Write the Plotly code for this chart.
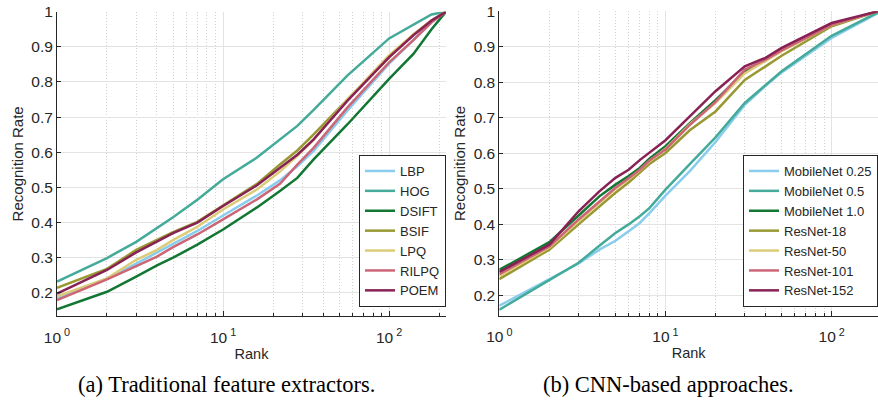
import math
import plotly.graph_objects as go

# ---------------- data: (a) traditional feature extractors ----------------
ranks_a = [1, 2, 3, 4, 5, 7, 10, 16, 22, 28, 35, 56, 100, 140, 180, 220]
lbp   = [0.185, 0.240, 0.283, 0.315, 0.340, 0.376, 0.420, 0.477, 0.520, 0.560, 0.603, 0.718, 0.852, 0.919, 0.970, 1.0]
hog   = [0.232, 0.299, 0.345, 0.385, 0.415, 0.465, 0.523, 0.585, 0.635, 0.675, 0.720, 0.818, 0.924, 0.962, 0.992, 1.0]
dsift = [0.153, 0.203, 0.246, 0.278, 0.300, 0.337, 0.380, 0.443, 0.490, 0.527, 0.579, 0.679, 0.809, 0.880, 0.950, 1.0]
bsif  = [0.214, 0.268, 0.322, 0.350, 0.373, 0.402, 0.449, 0.510, 0.565, 0.605, 0.650, 0.750, 0.870, 0.935, 0.975, 1.0]
lpq   = [0.190, 0.241, 0.294, 0.322, 0.350, 0.388, 0.437, 0.494, 0.545, 0.590, 0.635, 0.750, 0.876, 0.935, 0.975, 1.0]
rilpq = [0.179, 0.238, 0.276, 0.303, 0.330, 0.366, 0.409, 0.466, 0.510, 0.565, 0.612, 0.727, 0.856, 0.919, 0.970, 1.0]
poem  = [0.198, 0.265, 0.315, 0.347, 0.370, 0.400, 0.447, 0.506, 0.555, 0.593, 0.636, 0.746, 0.871, 0.933, 0.975, 1.0]
names_a = ["LBP", "HOG", "DSIFT", "BSIF", "LPQ", "RILPQ", "POEM"]
series_a = [lbp, hog, dsift, bsif, lpq, rilpq, poem]

# ---------------- data: (b) CNN-based approaches ----------------
ranks_b = [1, 2, 3, 4, 5, 6, 7, 8, 10, 14, 20, 30, 40, 50, 100, 190]
mnet025 = [0.171, 0.245, 0.290, 0.329, 0.354, 0.381, 0.404, 0.432, 0.481, 0.550, 0.632, 0.737, 0.790, 0.828, 0.925, 0.995]
mnet05  = [0.160, 0.243, 0.292, 0.340, 0.376, 0.400, 0.423, 0.446, 0.498, 0.570, 0.645, 0.742, 0.793, 0.831, 0.931, 0.997]
mnet10  = [0.272, 0.350, 0.425, 0.479, 0.512, 0.536, 0.559, 0.585, 0.620, 0.685, 0.750, 0.830, 0.862, 0.890, 0.962, 1.0]
res18   = [0.246, 0.329, 0.400, 0.451, 0.489, 0.518, 0.545, 0.570, 0.601, 0.665, 0.718, 0.807, 0.845, 0.875, 0.958, 1.0]
res50   = [0.255, 0.335, 0.409, 0.460, 0.500, 0.527, 0.552, 0.578, 0.613, 0.682, 0.742, 0.825, 0.860, 0.888, 0.962, 1.0]
res101  = [0.260, 0.338, 0.414, 0.465, 0.503, 0.530, 0.554, 0.580, 0.611, 0.680, 0.745, 0.836, 0.864, 0.890, 0.962, 1.0]
res152  = [0.266, 0.343, 0.437, 0.493, 0.531, 0.554, 0.581, 0.601, 0.637, 0.704, 0.775, 0.845, 0.869, 0.897, 0.967, 1.0]
names_b = ["MobileNet 0.25", "MobileNet 0.5", "MobileNet 1.0", "ResNet-18", "ResNet-50", "ResNet-101", "ResNet-152"]
series_b = [mnet025, mnet05, mnet10, res18, res50, res101, res152]

colors = ["#88CCEE", "#44AA99", "#117733", "#999933", "#DDCC77", "#CC6677", "#882255"]

y_ticks = [0.2, 0.3, 0.4, 0.5, 0.6, 0.7, 0.8, 0.9, 1.0]
x_major = [1, 10, 100]
x_major_text = ["10<sup> 0</sup>", "10<sup> 1</sup>", "10<sup> 2</sup>"]
captions = ["(a) Traditional feature extractors.", "(b) CNN-based approaches."]

W, H = 878, 402
AX = "#262626"
GRID = "#e3e3e3"
MINOR = "#d2d2d2"
FONT = "Liberation Sans"

minor_vals = [k * 10 ** d for d in range(0, 3) for k in range(2, 10)]

fig = go.Figure()
for nm, ys, c in zip(names_a, series_a, colors):
    fig.add_trace(go.Scatter(x=ranks_a, y=ys, mode="lines", name=nm,
                             line=dict(color=c, width=2.5),
                             xaxis="x", yaxis="y", legend="legend"))
for nm, ys, c in zip(names_b, series_b, colors):
    fig.add_trace(go.Scatter(x=ranks_b, y=ys, mode="lines", name=nm,
                             line=dict(color=c, width=2.5),
                             xaxis="x2", yaxis="y2", legend="legend2"))


def xax(domain, rmax, anchor):
    return dict(domain=domain, type="log", range=[0, math.log10(rmax)], anchor=anchor,
                tickmode="array", tickvals=x_major, ticktext=x_major_text,
                ticks="inside", ticklen=5, tickcolor=AX, tickwidth=1,
                ticklabelstandoff=7,
                showline=True, linecolor=AX, linewidth=1, mirror=False,
                showgrid=True, gridcolor=GRID, gridwidth=1, zeroline=False,
                minor=dict(tickmode="array", tickvals=minor_vals, ticks="inside",
                           ticklen=3, tickcolor=AX, showgrid=True,
                           gridcolor=MINOR, griddash="1px,2px", gridwidth=1),
                tickfont=dict(family=FONT, size=15.5, color=AX),
                title=dict(text="Rank", font=dict(family=FONT, size=14.5, color=AX), standoff=1),
                automargin=False, fixedrange=True)


def yax(domain, rmin, anchor):
    return dict(domain=domain, range=[rmin, 1.0], anchor=anchor,
                tickmode="array", tickvals=y_ticks,
                ticks="inside", ticklen=4, tickcolor=AX, tickwidth=1,
                showline=True, linecolor=AX, linewidth=1, mirror=False,
                showgrid=True, gridcolor=GRID, gridwidth=1, zeroline=False,
                tickfont=dict(family=FONT, size=15.5, color=AX),
                title=dict(text="Recognition Rate", font=dict(family=FONT, size=15, color=AX), standoff=4),
                automargin=False, fixedrange=True)


legend_common = dict(bgcolor="white", bordercolor=AX, borderwidth=1,
                     font=dict(family=FONT, size=13, color=AX),
                     xanchor="right", yanchor="bottom", tracegroupgap=0,
                     itemwidth=30, itemclick=False)

fig.update_layout(
    width=W, height=H, template="none",
    margin=dict(l=0, r=0, t=0, b=0),
    paper_bgcolor="white", plot_bgcolor="white",
    font=dict(family=FONT, color=AX),
    xaxis=xax([57 / W, 446 / W], 220, "y"),
    yaxis=yax([1 - 316 / H, 1 - 11.7 / H], 0.134, "x"),
    xaxis2=xax([499.3 / W, 1.0], 190, "y2"),
    yaxis2=yax([1 - 315.7 / H, 1 - 11.3 / H], 0.143, "x2"),
    legend=dict(x=446 / W, y=1 - 307 / H, **legend_common),
    legend2=dict(x=1.0, y=1 - 307 / H, **legend_common),
    showlegend=True,
    annotations=[
        dict(text=captions[0], xref="paper", yref="paper", x=226 / W, y=1 - 384 / H,
             xanchor="center", yanchor="middle", showarrow=False,
             font=dict(family="Liberation Serif", size=22.5, color="black")),
        dict(text=captions[1], xref="paper", yref="paper", x=668 / W, y=1 - 384 / H,
             xanchor="center", yanchor="middle", showarrow=False,
             font=dict(family="Liberation Serif", size=22.5, color="black")),
    ],
)

fig.write_html("out.html", config={"displayModeBar": False},
               post_script="document.body.style.margin='0';document.body.style.overflow='hidden';")
